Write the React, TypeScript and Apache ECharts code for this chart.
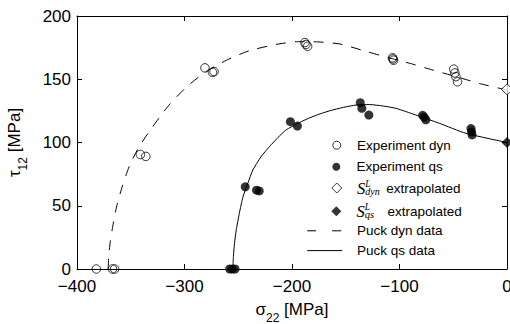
import React, { useEffect, useRef } from "react";
import * as echarts from "echarts";

const SANS = "'Liberation Sans', Arial, Helvetica, sans-serif";
const SERIF = "'Liberation Serif', 'Times New Roman', serif";
const INK = "#000";

// Axis ticks (MPa)
const xTicks = [-400, -300, -200, -100, 0];
const yTicks = [0, 50, 100, 150, 200];

// Measured failure points: [sigma22, tau12] in MPa
const experimentDyn: [number, number][] = [
  [-382, 0], [-367, 0], [-365, 0],
  [-341, 90.5], [-336, 89],
  [-281, 159], [-274, 155.5], [-272.5, 156],
  [-188, 179], [-187, 177.5], [-185.5, 176],
  [-106.5, 167], [-106, 166], [-105.5, 165],
  [-49.5, 158], [-48.5, 155], [-47.5, 152], [-46, 148],
];

const experimentQs: [number, number][] = [
  [-258, 0], [-255.5, 0], [-253, 0],
  [-243.5, 65], [-233, 62.3], [-230.5, 61.7],
  [-201.5, 116.5], [-195, 113],
  [-136.5, 131.5], [-135, 127], [-128.5, 121.7],
  [-78.5, 121.5], [-77, 120], [-75.5, 118],
  [-33.5, 111], [-33, 108.5], [-32.5, 106],
];

// Extrapolated in-plane shear strengths S^L
const extrapolatedDyn: [number, number][] = [[0, 142]];
const extrapolatedQs: [number, number][] = [[0, 100]];

// Puck fracture envelopes
const puckDyn: [number, number][] = [
  [-371, 0], [-370.5, 10], [-369, 22], [-366.5, 35], [-363, 50], [-358, 65],
  [-351, 82], [-342, 97], [-330, 112], [-315, 129], [-298, 144], [-280, 156],
  [-261, 165], [-240, 172.5], [-215, 177.5], [-195, 179.7], [-175, 179.5],
  [-155, 177.8], [-131, 172], [-110, 167], [-90, 162.5], [-70, 157.5],
  [-45, 151.5], [-25, 146.5], [0, 141.5],
];

const puckQs: [number, number][] = [
  [-255, 0], [-254.5, 10], [-253.5, 20], [-251.8, 31], [-249, 44], [-245.6, 57],
  [-241, 68], [-236.4, 78.3], [-229, 88.5], [-221, 96.7], [-213, 104],
  [-205.4, 110], [-196, 114.5], [-186.8, 118.3], [-176, 122], [-165.2, 125],
  [-152, 127.8], [-140.4, 129.6], [-128, 130], [-115, 128.8], [-103.3, 127],
  [-85, 121.8], [-63, 115.2], [-38.3, 107.3], [0, 100],
];

const NAME_DYN = "Experiment dyn";
const NAME_QS = "Experiment qs";
const NAME_SDYN = "S_dyn extrapolated";
const NAME_SQS = "S_qs extrapolated";
const NAME_PUCK_DYN = "Puck dyn data";
const NAME_PUCK_QS = "Puck qs data";

const fmtTick = (v: number) => (v < 0 ? "\u2212" + Math.abs(v) : String(v));

const richLegend = {
  s: { fontFamily: SERIF, fontStyle: "italic", fontSize: 16.5, color: INK },
  sup: { fontFamily: SERIF, fontStyle: "italic", fontSize: 9.5, color: INK, width: 0, padding: [0, 0, 8, 0] },
  subDyn: { fontFamily: SERIF, fontStyle: "italic", fontSize: 10, color: INK, width: 21, padding: [6, 0, 0, 0] },
  subQs: { fontFamily: SERIF, fontStyle: "italic", fontSize: 10.5, color: INK, width: 22.7, padding: [6.5, 0, 0, 0] },
  t: { fontFamily: SANS, fontSize: 13.5, color: INK },
};

const legendText = (padLeft: number) => ({
  fontFamily: SANS,
  fontSize: 13.5,
  color: INK,
  lineHeight: 20,
  padding: [0, 0, 0, padLeft],
  rich: richLegend,
});

const legendFormatter = (name: string) => {
  if (name === NAME_SDYN) return "{s|S}{sup|L}{subDyn|dyn}{t|extrapolated}";
  if (name === NAME_SQS) return "{s|S}{sup|L}{subQs|qs}{t|extrapolated}";
  return name;
};

// legend column geometry
const MARK_X = 336.3;
const TEXT_X = 356.5;
const LINE_X = 306.7;
const LINE_W = 35;

const markLegend = (name: string, centerY: number, size: number) => ({
  show: true,
  orient: "vertical",
  left: MARK_X - size / 2,
  top: centerY - 10,
  padding: 0,
  itemGap: 0,
  itemWidth: size,
  itemHeight: size,
  selectedMode: false,
  data: [name],
  formatter: legendFormatter,
  itemStyle: { borderWidth: 1 },
  textStyle: legendText(TEXT_X - (MARK_X + size / 2 + 5)),
});

const lineLegend = (name: string, centerY: number, dash: number[] | string) => ({
  show: true,
  orient: "vertical",
  left: LINE_X,
  top: centerY - 10,
  padding: 0,
  itemGap: 0,
  itemWidth: LINE_W,
  itemHeight: 8,
  selectedMode: false,
  data: [name],
  itemStyle: { opacity: 0 },
  lineStyle: { type: dash, width: 1, color: INK },
  textStyle: legendText(TEXT_X - (LINE_X + LINE_W + 5)),
});

const axisName = (main: string, sub: string, tail: string) =>
  `{a|${main}}{b|${sub}}{a|${tail}}`;

const nameStyle = {
  fontFamily: SANS,
  fontSize: 17,
  color: INK,
  lineHeight: 20,
  rich: {
    a: { fontFamily: SANS, fontSize: 17, color: INK },
    b: { fontFamily: SANS, fontSize: 12, color: INK, padding: [18, 0, 0, 0] },
  },
};

const frameLine = { show: true, onZero: false, lineStyle: { color: INK, width: 1 } };
const frameTick = { show: true, inside: true, length: 5, lineStyle: { color: INK, width: 1 } };
const tickLabel = { fontFamily: SANS, fontSize: 17, lineHeight: 14, color: INK, formatter: fmtTick };

const xRange = {
  type: "value",
  min: xTicks[0],
  max: xTicks[xTicks.length - 1],
  interval: xTicks[1] - xTicks[0],
  splitLine: { show: false },
  axisLine: frameLine,
  axisTick: frameTick,
};

const yRange = {
  type: "value",
  min: yTicks[0],
  max: yTicks[yTicks.length - 1],
  interval: yTicks[1] - yTicks[0],
  splitLine: { show: false },
  axisLine: frameLine,
  axisTick: frameTick,
};

const option = {
  animation: false,
  backgroundColor: "#fff",
  grid: { left: 77, right: 3, top: 16, bottom: 55, outerBoundsMode: "none", containLabel: false },
  legend: [
    markLegend(NAME_DYN, 145.2, 8),
    markLegend(NAME_QS, 166.8, 8),
    markLegend(NAME_SDYN, 188, 10),
    markLegend(NAME_SQS, 211.2, 10),
    lineLegend(NAME_PUCK_DYN, 230.8, [9, 16]),
    lineLegend(NAME_PUCK_QS, 250.6, "solid"),
  ],
  xAxis: [
    {
      ...xRange,
      position: "bottom",
      axisLabel: { ...tickLabel, margin: 10 },
      name: axisName("\u03c3", "22", " [MPa]"),
      nameLocation: "middle",
      nameGap: 29,
      nameTextStyle: nameStyle,
    },
    { ...xRange, position: "top", axisLabel: { show: false } },
  ],
  yAxis: [
    {
      ...yRange,
      position: "left",
      axisLabel: { ...tickLabel, margin: 6 },
      name: axisName("\u03c4", "12", " [MPa]"),
      nameLocation: "middle",
      nameGap: 53,
      nameTextStyle: nameStyle,
    },
    { ...yRange, position: "right", axisLabel: { show: false } },
  ],
  series: [
    {
      name: NAME_PUCK_DYN,
      type: "line",
      data: puckDyn,
      symbol: "none",
      smooth: 0.2,
      lineStyle: { color: INK, width: 1, type: [10, 9] },
      z: 2,
    },
    {
      name: NAME_PUCK_QS,
      type: "line",
      data: puckQs,
      symbol: "none",
      smooth: 0.2,
      lineStyle: { color: INK, width: 1, type: "solid" },
      z: 2,
    },
    {
      name: NAME_DYN,
      type: "scatter",
      data: experimentDyn,
      symbol: "circle",
      symbolSize: 8.5,
      itemStyle: { color: "rgba(0,0,0,0)", borderColor: INK, borderWidth: 1 },
      z: 3,
    },
    {
      name: NAME_QS,
      type: "scatter",
      data: experimentQs,
      symbol: "circle",
      symbolSize: 9,
      itemStyle: { color: INK },
      z: 3,
    },
    {
      name: NAME_SDYN,
      type: "scatter",
      data: extrapolatedDyn,
      symbol: "diamond",
      symbolSize: 11,
      itemStyle: { color: "#fff", borderColor: INK, borderWidth: 1 },
      z: 4,
    },
    {
      name: NAME_SQS,
      type: "scatter",
      data: extrapolatedQs,
      symbol: "diamond",
      symbolSize: 11,
      itemStyle: { color: INK },
      z: 4,
    },
  ],
};

export default function App() {
  const ref = useRef<HTMLDivElement>(null);
  useEffect(() => {
    if (!ref.current) return;
    const chart = echarts.init(ref.current, null, { renderer: "svg" });
    chart.setOption(option as any);
    return () => chart.dispose();
  }, []);
  return (
    <div
      ref={ref}
      style={{ position: "fixed", left: 0, top: 0, width: 510, height: 324, background: "#fff" }}
    />
  );
}
